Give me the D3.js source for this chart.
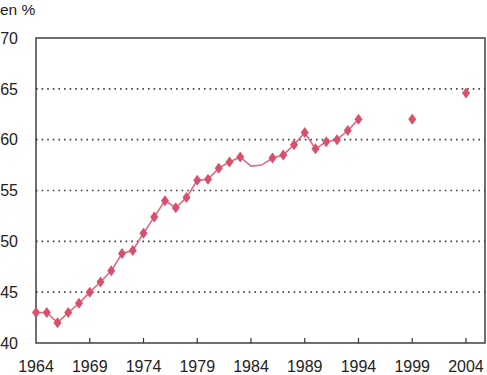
<!DOCTYPE html>
<html lang="fr">
<head>
    <meta charset="UTF-8">
    <title>Taux en %</title>
    <script src="https://d3js.org/d3.v7.min.js"></script>
    <style>
        body { margin: 0; background: #fff; }
        svg { font-family: "Liberation Sans", Arial, sans-serif; }
    </style>
</head>
<body>
<div id="chart"></div>
<script>
    // annual series, 1964-1994 (1984 and 1985 drawn on the line but without marker)
    const years = [1964, 1965, 1966, 1967, 1968, 1969, 1970, 1971, 1972, 1973, 1974,
                   1975, 1976, 1977, 1978, 1979, 1980, 1981, 1982, 1983, 1984, 1985,
                   1986, 1987, 1988, 1989, 1990, 1991, 1992, 1993, 1994];
    const values = [43.0, 43.0, 42.0, 43.0, 43.9, 45.0, 46.0, 47.1, 48.8, 49.1, 50.8,
                    52.4, 54.0, 53.3, 54.3, 56.0, 56.1, 57.2, 57.8, 58.3, 57.4, 57.5,
                    58.2, 58.5, 59.5, 60.7, 59.1, 59.8, 60.0, 60.9, 62.0];
    const noMarker = [1984, 1985];

    // isolated points
    const extraYears = [1999, 2004];
    const extraValues = [62.0, 64.6];

    const xTicks = [1964, 1969, 1974, 1979, 1984, 1989, 1994, 1999, 2004];
    const yTicks = [40, 45, 50, 55, 60, 65, 70];

    const width = 487, height = 375;
    const margin = { top: 38, right: 2, bottom: 32, left: 36 };
    const color = "#d9506c";

    const svg = d3.select("#chart").append("svg")
        .attr("width", width)
        .attr("height", height);

    const x = d3.scaleLinear()
        .domain([1964, 2005.77])
        .range([margin.left, width - margin.right]);

    const y = d3.scaleLinear()
        .domain([40, 70])
        .range([height - margin.bottom, margin.top]);

    // dotted grid
    svg.append("g")
        .selectAll("line")
        .data(yTicks.filter(d => d > 40 && d < 70))
        .enter().append("line")
        .attr("x1", x(1964))
        .attr("x2", x(2005.77))
        .attr("y1", d => y(d))
        .attr("y2", d => y(d))
        .attr("stroke", "#444")
        .attr("stroke-width", 1.6)
        .attr("stroke-dasharray", "1.6,4");

    // frame
    svg.append("rect")
        .attr("x", x(1964))
        .attr("y", y(70))
        .attr("width", x(2005.77) - x(1964))
        .attr("height", y(40) - y(70))
        .attr("fill", "none")
        .attr("stroke", "#333")
        .attr("stroke-width", 1.4);

    // x ticks pointing up into the plot
    svg.append("g")
        .selectAll("line")
        .data(xTicks.slice(1))
        .enter().append("line")
        .attr("x1", d => x(d))
        .attr("x2", d => x(d))
        .attr("y1", y(40))
        .attr("y2", y(40) - 5)
        .attr("stroke", "#333")
        .attr("stroke-width", 1.2);

    // tick labels
    svg.append("g")
        .selectAll("text")
        .data(xTicks)
        .enter().append("text")
        .attr("x", d => x(d))
        .attr("y", 372)
        .attr("text-anchor", "middle")
        .attr("font-size", 16)
        .attr("fill", "#222")
        .text(d => d);

    svg.append("g")
        .selectAll("text")
        .data(yTicks)
        .enter().append("text")
        .attr("x", 18)
        .attr("y", d => y(d))
        .attr("dy", "0.36em")
        .attr("text-anchor", "end")
        .attr("font-size", 16)
        .attr("fill", "#222")
        .text(d => d);

    svg.append("text")
        .attr("x", 0)
        .attr("y", 15)
        .attr("font-size", 15.5)
        .attr("fill", "#222")
        .text("en %");

    // line
    const series = years.map((yr, i) => ({ year: yr, value: values[i] }));
    const line = d3.line()
        .x(d => x(d.year))
        .y(d => y(d.value));

    svg.append("path")
        .datum(series)
        .attr("d", line)
        .attr("fill", "none")
        .attr("stroke", color)
        .attr("stroke-opacity", 0.85)
        .attr("stroke-width", 1.6);

    // diamond markers
    const diamond = "M0,-5.5L4,0L0,5.5L-4,0Z";
    const points = series.filter(d => !noMarker.includes(d.year))
        .concat(extraYears.map((yr, i) => ({ year: yr, value: extraValues[i] })));

    svg.append("g")
        .selectAll("path")
        .data(points)
        .enter().append("path")
        .attr("d", diamond)
        .attr("transform", d => `translate(${x(d.year)},${y(d.value)})`)
        .attr("fill", color);
</script>
</body>
</html>
